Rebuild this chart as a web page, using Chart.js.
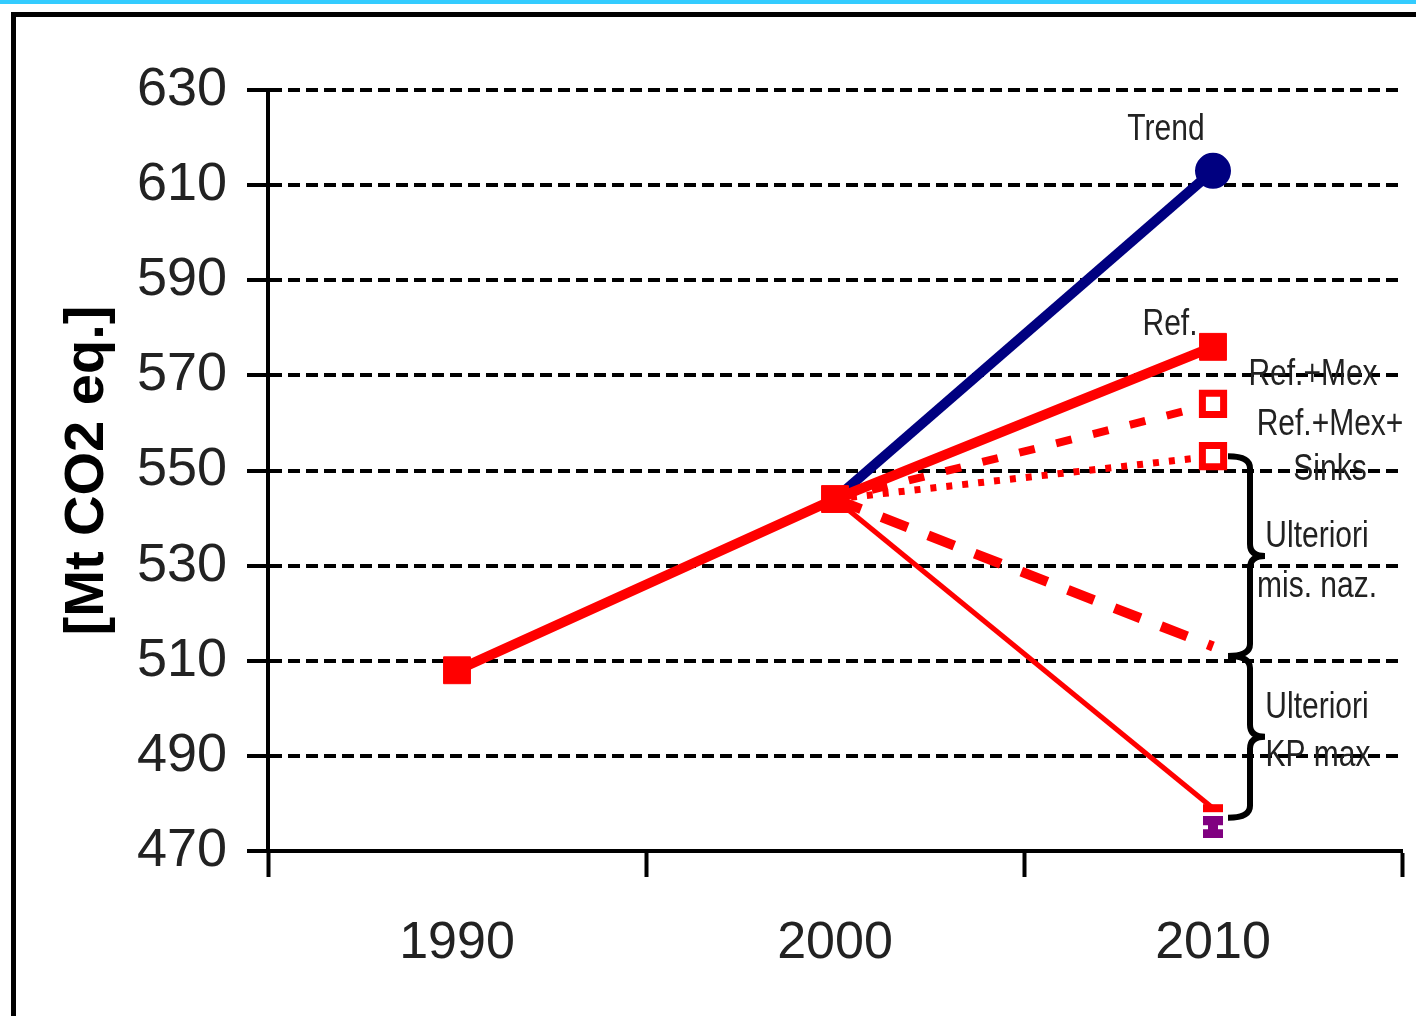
<!DOCTYPE html>
<html>
<head>
<meta charset="utf-8">
<title>Emissioni gas serra</title>
<script src="https://cdn.jsdelivr.net/npm/chart.js@4.4.0/dist/chart.umd.min.js"></script>
<style>
  html, body { margin: 0; padding: 0; background: #fff; }
  #wrap { width: 1416px; height: 1016px; position: relative; }
</style>
</head>
<body>
<div id="wrap"><canvas id="chart1"></canvas></div>
<script>
  // Values
  const years = ['1990', '2000', '2010'];
  const refValues = [508, 544, 576];
  const trendValues = [null, 544, 613];
  const refMexValues = [null, 544, 564];
  const refMexSinksValues = [null, 544, 553];
  const misNazValues = [null, 544, 513];
  const kpMaxValues = [null, 544, 479];
  const kpLowValues = [null, null, 475];
  const yTicks = [470, 490, 510, 530, 550, 570, 590, 610, 630];

  // Brace ranges on the right (top, tip, bottom value)
  const braceTop = [553, 511];
  const braceTip = [532, 494];
  const braceBottom = [511, 477];

  const red = '#ff0000';
  const font = '"Liberation Sans", Arial, sans-serif';

  // Labels next to the 2010 column (offset in px from the column centre)
  const notes = [
    { text: 'Trend', dx: -47, y: 621.5 },
    { text: 'Ref.', dx: -43, y: 580.5 },
    { text: 'Ref.+Mex', dx: 100, y: 570 },
    { text: 'Ref.+Mex+', dx: 117, y: 559.5 },
    { text: 'Sinks', dx: 117, y: 550 },
    { text: 'Ulteriori', dx: 104, y: 536 },
    { text: 'mis. naz.', dx: 104, y: 525.5 },
    { text: 'Ulteriori', dx: 104, y: 500 },
    { text: 'KP max', dx: 105, y: 490 },
  ];

  // Purple hourglass marker
  const hourglass = document.createElement('canvas');
  hourglass.width = 20;
  hourglass.height = 22;
  const hg = hourglass.getContext('2d');
  hg.fillStyle = '#800080';
  hg.fillRect(0, 0, 20, 9);
  hg.fillRect(5, 9, 10, 4);
  hg.fillRect(0, 13, 20, 9);

  // Frame round the picture
  const framePlugin = {
    id: 'frame',
    beforeDraw(chart) {
      const ctx = chart.ctx;
      ctx.save();
      ctx.fillStyle = '#fff';
      ctx.fillRect(0, 0, chart.width, chart.height);
      ctx.fillStyle = '#33ccff';
      ctx.fillRect(0, 0, chart.width, 4);
      ctx.strokeStyle = '#000';
      ctx.lineWidth = 5;
      ctx.strokeRect(13.5, 14.5, chart.width + 40, chart.height + 40);
      ctx.restore();
    }
  };

  function drawBrace(ctx, x, y1, ym, y2) {
    const w = 22, r = 12, tip = 15;
    ctx.beginPath();
    ctx.moveTo(x - w, y1);
    ctx.quadraticCurveTo(x, y1, x, y1 + r);
    ctx.lineTo(x, ym - r);
    ctx.quadraticCurveTo(x, ym, x + tip, ym);
    ctx.quadraticCurveTo(x, ym, x, ym + r);
    ctx.lineTo(x, y2 - r);
    ctx.quadraticCurveTo(x, y2, x - w, y2);
    ctx.stroke();
  }

  // Texts and braces
  const notesPlugin = {
    id: 'notes',
    afterDatasetsDraw(chart) {
      const ctx = chart.ctx;
      const x = chart.scales.x;
      const y = chart.scales.y;
      const x2010 = x.getPixelForValue(2);
      ctx.save();
      ctx.fillStyle = '#222';
      ctx.font = '30px ' + font;
      ctx.textAlign = 'center';
      ctx.textBaseline = 'middle';
      notes.forEach(n => {
        ctx.save();
        ctx.translate(x2010 + n.dx, y.getPixelForValue(n.y));
        ctx.scale(1, 1.2);
        ctx.fillText(n.text, 0, 0);
        ctx.restore();
      });
      ctx.strokeStyle = '#000';
      ctx.lineWidth = 6;
      for (let i = 0; i < braceTop.length; i++) {
        drawBrace(ctx, x2010 + 37,
          y.getPixelForValue(braceTop[i]),
          y.getPixelForValue(braceTip[i]),
          y.getPixelForValue(braceBottom[i]));
      }
      ctx.restore();
    }
  };

  const chartConfig1 = {
    type: 'line',
    data: {
      labels: years,
      datasets: [
        {
          label: 'Ref.',
          data: refValues,
          borderColor: red,
          backgroundColor: red,
          borderWidth: 10,
          pointStyle: 'rect',
          pointRadius: 19,
          pointBorderWidth: 1,
        },
        {
          label: 'Ref.+Mex',
          data: refMexValues,
          borderColor: red,
          borderWidth: 8,
          borderDash: [16, 22],
          pointStyle: 'rect',
          pointRadius: [0, 0, 15],
          pointBorderWidth: 7,
          pointBackgroundColor: '#fff',
        },
        {
          label: 'Ref.+Mex+Sinks',
          data: refMexSinksValues,
          borderColor: red,
          borderWidth: 7,
          borderDash: [6, 10],
          pointStyle: 'rect',
          pointRadius: [0, 0, 15],
          pointBorderWidth: 7,
          pointBackgroundColor: '#fff',
        },
        {
          label: 'Ulteriori mis. naz.',
          data: misNazValues,
          borderColor: red,
          borderWidth: 10,
          borderDash: [28, 22],
          pointRadius: 0,
        },
        {
          label: 'KP max',
          data: kpMaxValues,
          borderColor: red,
          borderWidth: 5,
          pointStyle: 'line',
          pointRadius: [0, 0, 10],
          pointBorderWidth: 8,
          pointBorderColor: red,
        },
        {
          label: 'KP max (min)',
          data: kpLowValues,
          showLine: false,
          pointStyle: hourglass,
          pointRadius: 10,
        },
        {
          label: 'Trend',
          data: trendValues,
          borderColor: '#000080',
          backgroundColor: '#000080',
          borderWidth: 10,
          pointStyle: 'circle',
          pointRadius: [0, 0, 13],
        },
      ],
    },
    options: {
      responsive: true,
      maintainAspectRatio: false,
      animation: false,
      layout: { autoPadding: false, padding: { top: 90, right: 14, left: 0, bottom: 0 } },
      plugins: {
        legend: { display: false },
        tooltip: { enabled: false },
      },
      scales: {
        x: {
          offset: true,
          grid: {
            offset: true,
            drawOnChartArea: false,
            color: '#000',
            tickColor: '#000',
            tickLength: 26,
            tickWidth: 4,
          },
          border: { color: '#000', width: 4 },
          ticks: {
            color: '#222',
            padding: 35,
            font: { family: font, size: 52 },
          },
          afterFit(scale) { scale.height = 165; },
        },
        y: {
          min: 470,
          max: 630,
          afterBuildTicks(scale) { scale.ticks = yTicks.map(v => ({ value: v })); },
          grid: {
            color: '#000',
            lineWidth: 4,
            tickColor: '#000',
            tickLength: 21,
            tickWidth: 4,
          },
          border: { color: '#000', width: 4, dash: [12, 6] },
          ticks: {
            color: '#222',
            padding: 20,
            font: { family: font, size: 54 },
          },
          title: {
            display: true,
            text: '[Mt CO2 eq.]',
            color: '#000',
            padding: { top: 54, bottom: 0 },
            font: { family: font, size: 56, weight: 'bold' },
          },
          afterFit(scale) { scale.width = 268; },
        },
      },
    },
    plugins: [framePlugin, notesPlugin],
  };

  // Create the chart
  const ctx1 = document.getElementById('chart1').getContext('2d');
  new Chart(ctx1, chartConfig1);
</script>
</body>
</html>
